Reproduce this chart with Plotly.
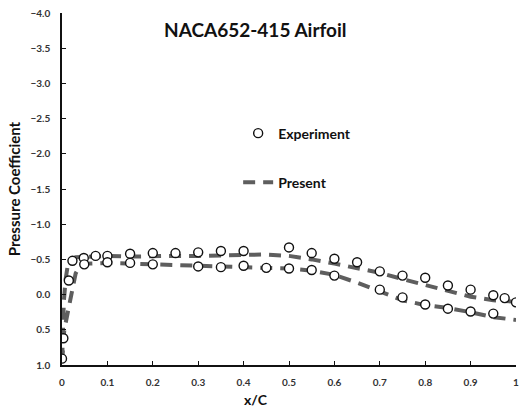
import plotly.graph_objects as go

# Experiment (open circles)
exp_up_x = [0.0, 0.003, 0.015, 0.023, 0.048, 0.074, 0.10, 0.15, 0.20, 0.25, 0.30, 0.35, 0.40,
            0.50, 0.55, 0.60, 0.65, 0.70, 0.75, 0.80, 0.85, 0.90, 0.95, 0.975, 1.0]
exp_up_cp = [0.91, 0.62, -0.20, -0.48, -0.52, -0.55, -0.55, -0.58, -0.59, -0.59, -0.60, -0.62, -0.62,
             -0.67, -0.59, -0.51, -0.46, -0.33, -0.27, -0.24, -0.13, -0.07, 0.01, 0.05, 0.11]
exp_lo_x = [0.049, 0.10, 0.15, 0.20, 0.30, 0.35, 0.40, 0.45, 0.50, 0.55, 0.60,
            0.70, 0.75, 0.80, 0.85, 0.90, 0.95]
exp_lo_cp = [-0.43, -0.46, -0.45, -0.43, -0.40, -0.39, -0.41, -0.38, -0.37, -0.35, -0.27,
             -0.07, 0.04, 0.14, 0.20, 0.24, 0.27]

# Present (dashed line)
pre_up_x = [0.0, 0.002, 0.004, 0.008, 0.013, 0.02, 0.03, 0.05, 0.10, 0.15, 0.20, 0.25, 0.30,
            0.35, 0.40, 0.45, 0.50, 0.55, 0.60, 0.65, 0.70, 0.75, 0.80, 0.85, 0.90, 0.95, 1.0]
pre_up_cp = [1.0, 0.55, 0.10, -0.22, -0.43, -0.50, -0.53, -0.54, -0.55, -0.54, -0.54, -0.55, -0.55,
             -0.55, -0.56, -0.57, -0.55, -0.50, -0.44, -0.38, -0.31, -0.22, -0.13, -0.05, 0.03, 0.08, 0.10]
pre_lo_x = [0.0, 0.005, 0.012, 0.02, 0.03, 0.04, 0.05, 0.10, 0.15, 0.20, 0.25, 0.30, 0.35,
            0.40, 0.45, 0.50, 0.55, 0.60, 0.65, 0.70, 0.75, 0.80, 0.85, 0.90, 0.95, 1.0]
pre_lo_cp = [1.0, 0.50, 0.28, 0.0, -0.30, -0.42, -0.44, -0.45, -0.44, -0.43, -0.41, -0.40, -0.39,
             -0.38, -0.37, -0.37, -0.34, -0.28, -0.17, -0.05, 0.08, 0.15, 0.19, 0.25, 0.32, 0.36]

x_ticks = [0, 0.1, 0.2, 0.3, 0.4, 0.5, 0.6, 0.7, 0.8, 0.9, 1]
x_tick_text = ["0", "0.1", "0.2", "0.3", "0.4", "0.5", "0.6", "0.7", "0.8", "0.9", "1"]
y_ticks = [-4.0, -3.5, -3.0, -2.5, -2.0, -1.5, -1.0, -0.5, 0.0, 0.5, 1.0]

FONT = "Lato"

fig = go.Figure()

line_x = pre_up_x[::-1] + pre_lo_x[1:]
line_y = pre_up_cp[::-1] + pre_lo_cp[1:]
fig.add_trace(go.Scatter(
    x=line_x, y=line_y, mode="lines", name="Present",
    line=dict(color="#5e5e5e", width=4, dash="12px,8px"),
    legendgroup="b", legendrank=2,
))
fig.add_trace(go.Scatter(
    x=exp_up_x + exp_lo_x, y=exp_up_cp + exp_lo_cp, mode="markers", name="Experiment",
    marker=dict(symbol="circle", size=9, color="white", line=dict(color="#111111", width=1.4)),
    legendgroup="a", legendrank=1,
))

fig.add_annotation(
    text="NACA652-415 Airfoil", xref="paper", yref="paper", x=0.427, y=0.952,
    showarrow=False, font=dict(family=FONT, size=19, color="#111111", weight="bold"),
    xanchor="center", yanchor="middle",
)
fig.add_annotation(
    text="x/C", xref="paper", yref="paper", x=0.427, y=-0.0966,
    showarrow=False, font=dict(family=FONT, size=14, color="#111111", weight="bold"),
    xanchor="center", yanchor="middle",
)

fig.update_layout(
    width=521, height=408,
    margin=dict(l=62, r=2, t=13, b=43),
    paper_bgcolor="white", plot_bgcolor="white",
    font=dict(family=FONT, color="#222222"),
    legend=dict(
        x=0.388, y=0.703, xanchor="left", yanchor="top",
        bgcolor="rgba(0,0,0,0)", traceorder="grouped", tracegroupgap=28,
        font=dict(family=FONT, size=14, color="#111111", weight="bold"),
        itemwidth=30,
    ),
    xaxis=dict(
        range=[0, 1], tickvals=x_ticks, ticktext=x_tick_text,
        showline=True, linecolor="#111111", linewidth=1.5, mirror=False,
        ticks="inside", ticklen=4, tickcolor="#111111", tickwidth=1,
        showgrid=False, zeroline=False,
        tickfont=dict(family=FONT, size=10, color="#333333", weight="bold"),
        ticklabelstandoff=7, ticklabeloverflow="allow",
    ),
    yaxis=dict(
        range=[1, -4], tickvals=y_ticks, tickformat=".1f",
        showline=True, linecolor="#111111", linewidth=1.5,
        ticks="inside", ticklen=4, tickcolor="#111111", tickwidth=1,
        showgrid=False, zeroline=False,
        tickfont=dict(family=FONT, size=10, color="#333333", weight="bold"),
        ticklabelstandoff=8,
        title=dict(text="Pressure Coefficient", standoff=6,
                   font=dict(family=FONT, size=15, color="#111111", weight="bold")),
    ),
)

fig.write_html("out.html")
